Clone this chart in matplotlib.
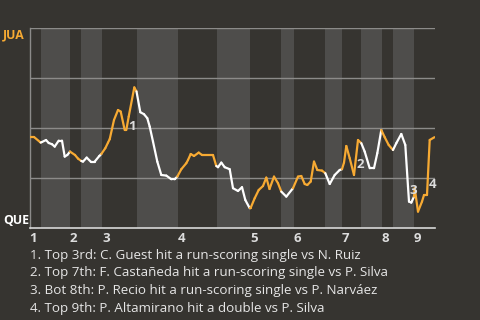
import matplotlib
matplotlib.use("Agg")
import matplotlib.pyplot as plt
from matplotlib.collections import LineCollection
import numpy as np

# ---- data ----
teams = ["JUA", "QUE"]  # away (top), home (bottom)
# game progress position of each win-probability reading
progress = [0, 4.5, 11.2, 12.5, 16.5, 19.2, 22.5, 25.2, 29.2, 32.5, 35.2, 37.8, 40.5,
            45.5, 48.5, 51.8, 53.5, 57.2, 61.2, 65.2, 69.8, 71.8, 75.8, 78.5, 80.2,
            84.5, 88.5, 91.2, 95.2, 96.8, 99.2, 104.8, 107.0, 110.8, 114.5, 117.8,
            120.2, 123.5, 127.8, 131.8, 136.8, 141.8, 145.2, 147.8, 151.8, 156.8,
            158.5, 161.2, 164.5, 169.2, 172.5, 183.5, 186.8, 188.5, 191.8, 195.2,
            200.2, 203.5, 208.5, 212.5, 215.8, 220.2, 221.0, 225.2, 229.2, 233.5,
            236.8, 240.0, 244.5, 248.5, 251.8, 256.8, 263.5, 268.5, 271.8, 275.2,
            277.8, 281.2, 284.5, 287.8, 292.5, 295.8, 300.2, 305.2, 310.2, 312.5,
            314.5, 316.8, 320.2, 324.5, 328.5, 331.8, 335.2, 340.2, 344.5, 347.8,
            351.8, 355.2, 359.2, 363.5, 366.8, 371.8, 375.8, 378.5, 379.5, 381.8,
            384.5, 385.2, 388.5, 392.5, 394.5, 397.5, 400.2, 405.0]
# JUA win probability
jua_wp = [0.455, 0.455, 0.427, 0.430, 0.440, 0.425, 0.419, 0.407, 0.437, 0.437, 0.357,
          0.365, 0.382, 0.365, 0.347, 0.335, 0.332, 0.352, 0.332, 0.332, 0.360, 0.370,
          0.399, 0.427, 0.444, 0.540, 0.590, 0.582, 0.490, 0.490, 0.557, 0.703, 0.683,
          0.579, 0.569, 0.549, 0.507, 0.432, 0.332, 0.265, 0.262, 0.244, 0.244, 0.257,
          0.294, 0.324, 0.340, 0.370, 0.360, 0.377, 0.365, 0.365, 0.310, 0.304, 0.327,
          0.304, 0.294, 0.199, 0.185, 0.204, 0.140, 0.099, 0.099, 0.149, 0.190, 0.210,
          0.252, 0.195, 0.257, 0.224, 0.182, 0.157, 0.199, 0.257, 0.260, 0.220, 0.215,
          0.232, 0.332, 0.290, 0.287, 0.274, 0.220, 0.265, 0.290, 0.294, 0.327, 0.410,
          0.349, 0.265, 0.440, 0.424, 0.382, 0.299, 0.299, 0.374, 0.490, 0.454, 0.415,
          0.390, 0.424, 0.470, 0.415, 0.207, 0.132, 0.127, 0.157, 0.199, 0.082, 0.132,
          0.165, 0.165, 0.440, 0.454]
# start of every half-inning (top 1st ... top 9th) and game end
half_starts = [0, 11.5, 40.5, 51.5, 72.5, 107.5, 148.5, 187.5, 220.5, 251.5, 264.5,
               295.5, 312.5, 331.5, 352.5, 363.5, 384.5]
game_end = 405.0
inning_labels = ["1", "2", "3", "4", "5", "6", "7", "8", "9"]
event_marks = ["1", "2", "3", "4"]
event_pos_x = [102.5, 331.2, 383.5, 403.5]
event_pos_y = [0.51, 0.32, 0.19, 0.215]
notes = [
    "1. Top 3rd: C. Guest hit a run-scoring single vs N. Ruiz",
    "2. Top 7th: F. Castañeda hit a run-scoring single vs P. Silva",
    "3. Bot 8th: P. Recio hit a run-scoring single vs P. Narváez",
    "4. Top 9th: P. Altamirano hit a double vs P. Silva",
]

# ---- style ----
BG = "#363430"
BAND = "#4e4d4b"
ORANGE = "#f7aa33"
WHITE = "#ffffff"
GRID = "#8c8b89"
TXT = "#e6e6e6"
FONT = ["Open Sans", "DejaVu Sans"]
plt.rcParams["font.family"] = FONT

W, H = 480, 320
fig = plt.figure(figsize=(W / 100, H / 100), dpi=100, facecolor=BG)
ax = fig.add_axes([29.5 / W, 92 / H, 405 / W, 200 / H])
ax.set_facecolor(BG)
ax.set_xlim(0, game_end)
ax.set_ylim(0, 1)

# half-inning bands: bottom halves lighter
ends = half_starts[1:] + [game_end]
for i, (s, e) in enumerate(zip(half_starts, ends)):
    if i % 2 == 1:
        ax.axvspan(s, e, color=BAND, lw=0, zorder=0)

for g in [0.25, 0.5, 0.75, 1.0]:
    ax.axhline(g, color=GRID, lw=1, zorder=1)
for sp in ["top", "right"]:
    ax.spines[sp].set_visible(False)
ax.spines["left"].set_color(GRID)
ax.spines["left"].set_linewidth(1)
ax.spines["bottom"].set_color("#d8d8d8")
ax.spines["bottom"].set_linewidth(1.2)

# line coloured by batting team (half-inning of segment midpoint)
x = np.array(progress)
y = np.array(jua_wp)
segs = np.stack([np.column_stack([x[:-1], y[:-1]]), np.column_stack([x[1:], y[1:]])], axis=1)
mids = (x[:-1] + x[1:]) / 2
half_idx = np.searchsorted(half_starts, mids, side="right") - 1
cols = [ORANGE if h % 2 == 0 else WHITE for h in half_idx]
lc = LineCollection(segs, colors=cols, linewidths=1.6, zorder=3, capstyle="round", joinstyle="round")
ax.add_collection(lc)

# event markers
for m, ex, ey in zip(event_marks, event_pos_x, event_pos_y):
    ax.text(ex, ey, m, color="#dcdcdc", fontsize=9.5, fontweight="bold",
            ha="center", va="center", zorder=4)

# inning ticks
inning_starts = half_starts[0::2]
ax.set_xticks(inning_starts)
ax.set_xticklabels(inning_labels, fontsize=9.5, fontweight="bold", color="#dddddd", ha="left")
ax.tick_params(axis="x", length=0, pad=3)
ax.set_yticks([])

# team labels
fig.text(3 / W, 1 - 35 / H, teams[0], color=ORANGE, fontsize=8.8, fontweight="bold",
         ha="left", va="center")
fig.text(3 / W, 1 - 221 / H, teams[1], color=WHITE, fontsize=8.8, fontweight="bold",
         ha="left", va="center")

# notes
for i, n in enumerate(notes):
    fig.text(30 / W, 1 - (255 + 17.7 * i) / H, n, color=TXT, fontsize=9.6,
             ha="left", va="center")

fig.savefig("out.png", dpi=100, facecolor=BG)
